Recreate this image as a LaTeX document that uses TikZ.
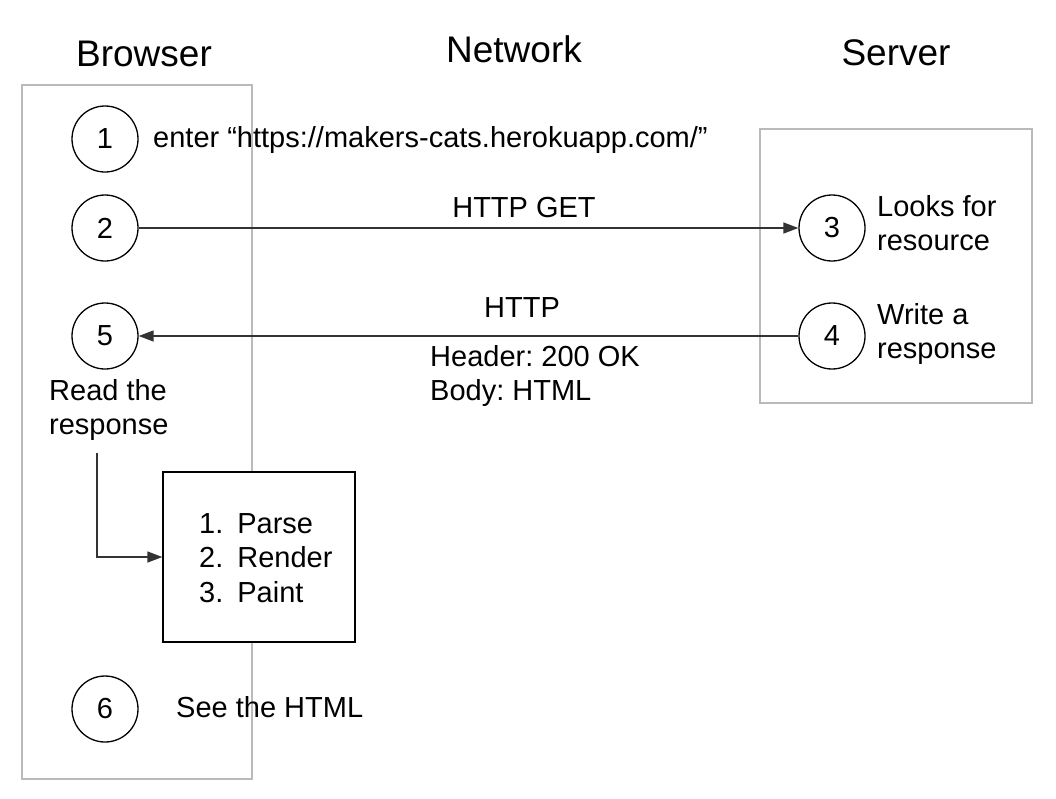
\documentclass[tikz,border=0pt]{standalone}
\usepackage{fontspec}
\setmainfont{Liberation Sans}
\usetikzlibrary{arrows.meta}
\frenchspacing
\begin{document}
\begin{tikzpicture}[x=1pt,y=-1pt,
  num/.style={circle,draw,line width=1.3pt,minimum size=66pt,inner sep=0pt,font=\fontsize{29}{34}\selectfont},
  lbl/.style={font=\fontsize{29}{34.5}\selectfont,inner sep=0pt},
  ttl/.style={font=\fontsize{37}{40}\selectfont,inner sep=0pt,anchor=base},
  lane/.style={draw=black!27,line width=1.5pt},
  listbox/.style={draw,line width=1.3pt,fill=white,minimum width=192pt,minimum height=170pt,inner sep=0pt},
  conn/.style={draw=black!80,line width=1.4pt,-{Triangle[length=15pt,width=11pt]}}]
\useasboundingbox (0,0) rectangle (1056,798);
% lanes
\draw[lane] (22,85) rectangle (252,779);
\draw[lane] (760,129) rectangle (1032,403);
% titles
\node[ttl] (tbrowser) at (144,66) {Browser};
\node[ttl] (tnetwork) at (514,62) {Network};
\node[ttl] (tserver) at (896,65) {Server};
% circles
\node[num] (n1) at (105,139) {1};
\node[num] (n2) at (105,228) {2};
\node[num] (n5) at (105,336) {5};
\node[num] (n6) at (105,709) {6};
\node[num] (n3) at (832,228) {3};
\node[num] (n4) at (832,336) {4};
% labels
\node[lbl,anchor=base west] (l1) at (153,147) {enter “https://makers-cats.herokuapp.com/”};
\node[lbl,anchor=base] (lget) at (524,217) {HTTP GET};
\node[lbl,anchor=base] (lhttp) at (522,317) {HTTP};
\node[lbl,anchor=base west] (lresp) at (430,366) {\begin{tabular}[t]{@{}l@{}}Header: 200 OK\\Body: HTML\end{tabular}};
\node[lbl,anchor=base west] (l3) at (877,216) {\begin{tabular}[t]{@{}l@{}}Looks for\\resource\end{tabular}};
\node[lbl,anchor=base west] (l4) at (877,324) {\begin{tabular}[t]{@{}l@{}}Write a\\response\end{tabular}};
\node[lbl,anchor=base west] (l5) at (49,400) {\begin{tabular}[t]{@{}l@{}}Read the\\response\end{tabular}};
\node[lbl,anchor=base west] (l6) at (176,717) {See the HTML};
% processing box
\node[listbox] (proc) at (259,557) {};
\node[lbl,anchor=base west] (plist) at (199,533) {\begin{tabular}[t]{@{}l@{\hspace{14pt}}l@{}}1.&Parse\\2.&Render\\3.&Paint\end{tabular}};
% connectors
\draw[conn] (n2) -- (n3);
\draw[conn] (n4) -- (n5);
\coordinate (elb) at (97,453);
\draw[conn] (elb) |- (proc.west);
\end{tikzpicture}
\end{document}
